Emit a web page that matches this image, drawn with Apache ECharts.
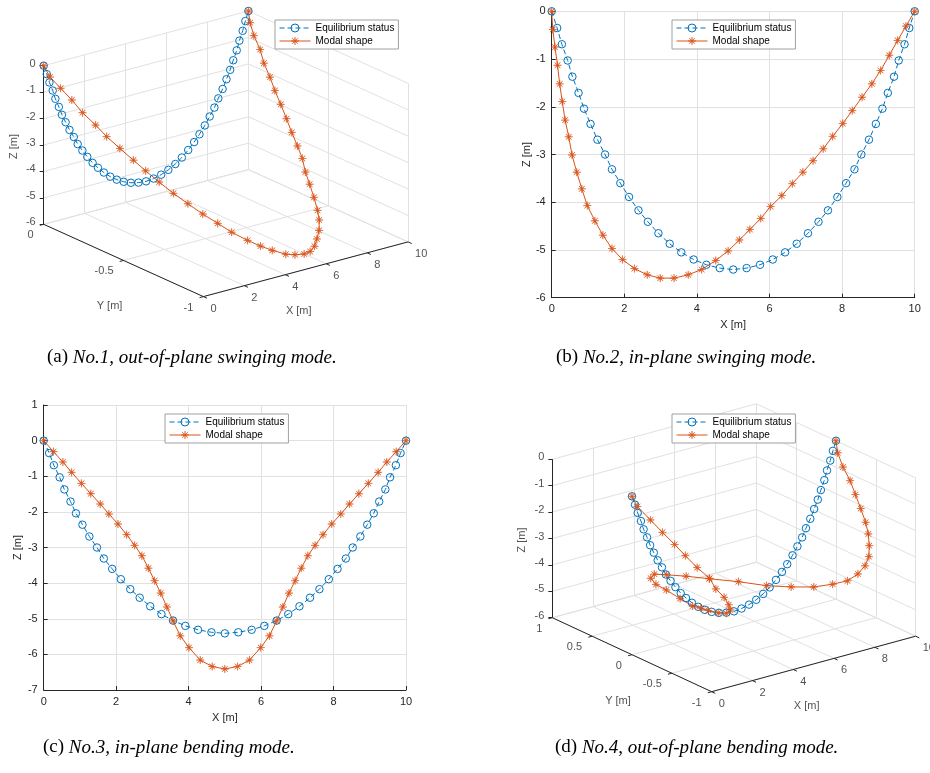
<!DOCTYPE html>
<html>
<head>
<meta charset="utf-8">
<script src="https://cdn.jsdelivr.net/npm/echarts@6/dist/echarts.min.js"></script>
<style>
  html, body { margin: 0; padding: 0; background: #fff; }
  #main { width: 930px; height: 773px; }
</style>
</head>
<body>
<div id="main"></div>
<script>
// equilibrium status of the cable (same in every panel, y = 0)
var eqX = [0, 0.15, 0.28, 0.44, 0.57, 0.74, 0.89, 1.07, 1.26, 1.47, 1.66, 1.89, 2.13, 2.39, 2.65, 2.94, 3.25, 3.57, 3.91, 4.26, 4.63,
  5.00, 5.37, 5.74, 6.09, 6.43, 6.75, 7.06, 7.35, 7.61, 7.87, 8.11, 8.34, 8.53, 8.74, 8.93, 9.11, 9.26, 9.43, 9.56, 9.72, 9.85, 10];
var eqZ = [0, -0.35, -0.69, -1.03, -1.37, -1.71, -2.04, -2.36, -2.69, -3.00, -3.31, -3.60, -3.89, -4.17, -4.41, -4.65, -4.87, -5.05, -5.20, -5.31, -5.38,
  -5.41, -5.38, -5.31, -5.20, -5.05, -4.87, -4.65, -4.41, -4.17, -3.89, -3.60, -3.31, -3.00, -2.69, -2.36, -2.04, -1.71, -1.37, -1.03, -0.69, -0.35, 0];

// mode 1 (out-of-plane swinging), x same as eqX
var mode1Y = [0, -0.02, -0.07, -0.12, -0.17, -0.23, -0.28, -0.34, -0.40, -0.45, -0.51, -0.57, -0.63, -0.69, -0.75, -0.80, -0.86, -0.90, -0.93, -0.97, -0.98,
  -0.99, -0.98, -0.96, -0.93, -0.90, -0.86, -0.81, -0.75, -0.69, -0.63, -0.58, -0.52, -0.46, -0.40, -0.34, -0.28, -0.23, -0.17, -0.13, -0.07, -0.03, 0];
var mode1Z = [0, -0.40, -0.72, -1.06, -1.43, -1.77, -2.10, -2.42, -2.74, -3.05, -3.35, -3.66, -3.94, -4.22, -4.46, -4.72, -4.93, -5.10, -5.25, -5.36, -5.43,
  -5.45, -5.46, -5.39, -5.27, -5.10, -4.88, -4.72, -4.45, -4.17, -3.93, -3.60, -3.34, -3.03, -2.72, -2.38, -2.06, -1.72, -1.39, -1.01, -0.68, -0.33, 0];

// mode 2 (in-plane swinging)
var mode2X = [0, 0.03, 0.09, 0.16, 0.22, 0.29, 0.37, 0.47, 0.56, 0.69, 0.83, 0.98, 1.19, 1.41, 1.66, 1.95, 2.28, 2.63, 2.99, 3.37, 3.76,
  4.13, 4.52, 4.86, 5.17, 5.46, 5.76, 6.03, 6.34, 6.63, 6.92, 7.20, 7.48, 7.74, 8.02, 8.28, 8.55, 8.82, 9.06, 9.30, 9.53, 9.76, 10];
var mode2Z = [0, -0.38, -0.75, -1.13, -1.52, -1.89, -2.28, -2.63, -3.01, -3.37, -3.72, -4.07, -4.39, -4.69, -4.97, -5.20, -5.39, -5.52, -5.59, -5.59, -5.52,
  -5.41, -5.22, -5.02, -4.79, -4.57, -4.34, -4.09, -3.86, -3.61, -3.37, -3.13, -2.88, -2.62, -2.35, -2.08, -1.80, -1.52, -1.24, -0.92, -0.61, -0.31, 0];

// mode 3 (in-plane bending)
var mode3X = [0, 0.27, 0.53, 0.77, 1.04, 1.30, 1.56, 1.80, 2.05, 2.29, 2.51, 2.71, 2.89, 3.06, 3.23, 3.40, 3.57, 3.77, 4.01, 4.32, 4.65,
  5.00, 5.35, 5.68, 5.99, 6.23, 6.43, 6.60, 6.77, 6.94, 7.11, 7.29, 7.49, 7.71, 7.95, 8.20, 8.44, 8.70, 8.96, 9.23, 9.47, 9.73, 10];
var mode3Z = [0, -0.31, -0.60, -0.89, -1.20, -1.49, -1.78, -2.06, -2.34, -2.64, -2.94, -3.23, -3.58, -3.93, -4.28, -4.67, -5.06, -5.48, -5.81, -6.16, -6.34,
  -6.41, -6.34, -6.16, -5.81, -5.48, -5.06, -4.67, -4.28, -3.93, -3.58, -3.23, -2.94, -2.64, -2.34, -2.06, -1.78, -1.49, -1.20, -0.89, -0.60, -0.31, 0];

// mode 4 (out-of-plane bending), x same as eqX
var mode4Y = [0, -0.03, -0.16, -0.27, -0.39, -0.48, -0.59, -0.70, -0.73, -0.78, -0.79, -0.75, -0.64, -0.47, -0.28, -0.11, 0.07, 0.31, 0.57, 0.79, 0.95,
  1.00, 0.94, 0.79, 0.59, 0.31, 0.04, -0.19, -0.40, -0.57, -0.69, -0.76, -0.79, -0.79, -0.74, -0.68, -0.60, -0.50, -0.39, -0.29, -0.16, -0.06, 0];
var mode4Z = [0, -0.38, -0.73, -1.08, -1.40, -1.73, -2.06, -2.35, -2.75, -3.04, -3.35, -3.65, -3.98, -4.26, -4.49, -4.70, -4.94, -5.06, -5.17, -5.34, -5.41,
  -5.40, -5.42, -5.34, -5.23, -5.02, -4.86, -4.65, -4.42, -4.13, -3.89, -3.58, -3.28, -2.97, -2.67, -2.35, -2.06, -1.71, -1.37, -1.01, -0.71, -0.34, 0];

var xTicks = [0, 2, 4, 6, 8, 10];
var zTicks1 = [-6, -5, -4, -3, -2, -1, 0];
var yTicks1 = [-1, -0.5, 0];
var yTicks4 = [-1, -0.5, 0, 0.5, 1];

var legendNames = ['Equilibrium status', 'Modal shape'];
var captionTags = ['(a)', '(b)', '(c)', '(d)'];
var captionTexts = ['No.1, out-of-plane swinging mode.', 'No.2, in-plane swinging mode.',
  'No.3, in-plane bending mode.', 'No.4, out-of-plane bending mode.'];

var FONT = 'Liberation Sans';
var INK = '#262626';
var GRIDC = '#e1e1e1';
var BLUE = '#0072BD';
var RED = '#D95319';

// matlab-like '*' marker
function starPath() {
  var pts = [];
  for (var k = 0; k < 16; k++) {
    var a = k * Math.PI / 8, r = k % 2 === 0 ? 10 : 1.5;
    pts.push((10 + r * Math.sin(a)).toFixed(2) + ' ' + (10 - r * Math.cos(a)).toFixed(2));
  }
  return 'path://M' + pts.join(' L') + ' Z';
}
var STAR = starPath();

// screen projection of the two 3D views (az -37.5, el 30), origin at (xmin, ymax, zmin)
var view1 = { o: [43.7, 224.3], ex: [20.47, -5.47], ey: [-159.7, -72.3], ez: [0, -26.43],
  xr: [0, 10], yr: [-1, 0], zr: [-6, 0] };
var view4 = { o: [552.3, 617.7], ex: [20.4, -5.55], ey: [-79.67, -37], ez: [0, -26.4],
  xr: [0, 10], yr: [-1, 1], zr: [-6, 0] };

function proj(v, x, y, z) {
  var dx = x - v.xr[0], dy = y - v.yr[1], dz = z - v.zr[0];
  return [v.o[0] + dx * v.ex[0] + dy * v.ey[0] + dz * v.ez[0],
          v.o[1] + dx * v.ex[1] + dy * v.ey[1] + dz * v.ez[1]];
}
function add(p, d) { return [p[0] + d[0], p[1] + d[1]]; }
function unit(d, len) { var l = Math.sqrt(d[0] * d[0] + d[1] * d[1]); return [d[0] / l * len, d[1] / l * len]; }

function box3d(v, yt) {
  var x0 = v.xr[0], x1 = v.xr[1], y0 = v.yr[0], y1 = v.yr[1], z0 = v.zr[0], z1 = v.zr[1];
  var P = function (x, y, z) { return proj(v, x, y, z); };
  var light = [], dark = [], labels = [];
  xTicks.forEach(function (x) {
    light.push([P(x, y1, z0), P(x, y1, z1)]);
    light.push([P(x, y1, z0), P(x, y0, z0)]);
    var p = P(x, y0, z0);
    dark.push([p, add(p, unit([-v.ey[0], -v.ey[1]], 4))]);
    labels.push({ p: add(p, [7, 12]), t: String(x), align: 'left' });
  });
  zTicks1.forEach(function (z) {
    light.push([P(x0, y1, z), P(x1, y1, z)]);
    light.push([P(x1, y1, z), P(x1, y0, z)]);
    var p = P(x0, y1, z);
    dark.push([p, add(p, [-4, 0])]);
    labels.push({ p: add(p, [-8, -2]), t: String(z), align: 'right' });
  });
  yt.forEach(function (y) {
    light.push([P(x0, y, z0), P(x1, y, z0)]);
    light.push([P(x1, y, z0), P(x1, y, z1)]);
    var p = P(x0, y, z0);
    dark.push([p, add(p, unit([-v.ex[0], -v.ex[1]], 4))]);
    labels.push({ p: add(p, [-10, 11]), t: String(y), align: 'right' });
  });
  dark.push([P(x0, y1, z0), P(x0, y1, z1)]);
  dark.push([P(x0, y0, z0), P(x0, y1, z0)]);
  dark.push([P(x0, y0, z0), P(x1, y0, z0)]);
  labels.push({ p: add(P(x0, y1, (z0 + z1) / 2), [-30, 1.5]), t: 'Z [m]', align: 'center', rot: 90 });
  labels.push({ p: add(P(x0, (y0 + y1) / 2, z0), [-14, 46]), t: 'Y [m]', align: 'center' });
  labels.push({ p: add(P((x0 + x1) / 2, y0, z0), [-7, 42]), t: 'X [m]', align: 'center' });
  return { light: light, dark: dark, labels: labels };
}

function segSeries(segs, color) {
  return {
    type: 'lines', coordinateSystem: 'cartesian2d', xAxisIndex: 2, yAxisIndex: 2, silent: true,
    lineStyle: { color: color, width: 1, opacity: 1, curveness: 0 },
    data: segs.map(function (s) { return { coords: s }; })
  };
}
function labelSeries(labels) {
  return {
    type: 'scatter', xAxisIndex: 2, yAxisIndex: 2, silent: true, symbolSize: 1,
    itemStyle: { color: 'rgba(0,0,0,0)' },
    label: { show: true, position: 'inside', fontFamily: FONT, fontSize: 11, color: INK, verticalAlign: 'middle' },
    data: labels.map(function (l) {
      return { value: l.p, label: { formatter: l.t, align: l.align, rotate: l.rot || 0 } };
    })
  };
}

function eqSeries(data, xi) {
  return {
    name: legendNames[0], type: 'line', xAxisIndex: xi, yAxisIndex: xi, data: data, clip: false, silent: true,
    showAllSymbol: true, symbol: 'circle', symbolSize: 7.5,
    itemStyle: { color: 'rgba(255,255,255,0)', borderColor: BLUE, borderWidth: 1 },
    lineStyle: { color: BLUE, width: 1, type: [5, 3] }
  };
}
function modeSeries(data, xi) {
  return {
    name: legendNames[1], type: 'line', xAxisIndex: xi, yAxisIndex: xi, data: data, clip: false, silent: true,
    showAllSymbol: true, symbol: STAR, symbolSize: 8,
    itemStyle: { color: RED, borderColor: RED, borderWidth: 0.5 },
    lineStyle: { color: RED, width: 1 }
  };
}

function pairs(xs, zs) { return xs.map(function (x, i) { return [x, zs[i]]; }); }

function axis2d(gi, min, max, interval, name, gap) {
  return {
    type: 'value', gridIndex: gi, min: min, max: max, interval: interval,
    name: name, nameLocation: 'middle', nameGap: gap,
    nameTextStyle: { fontFamily: FONT, fontSize: 11, color: INK },
    axisLine: { show: true, onZero: false, lineStyle: { color: INK, width: 1 } },
    axisTick: { show: true, inside: true, length: 4, lineStyle: { color: INK } },
    axisLabel: { fontFamily: FONT, fontSize: 11, color: INK, margin: 6 },
    splitLine: { show: true, lineStyle: { color: GRIDC, width: 1 } }
  };
}

function legendAt(left, top) {
  return {
    data: [
      { name: legendNames[0], itemStyle: { color: 'rgba(255,255,255,0)', borderColor: BLUE, borderWidth: 1 },
        lineStyle: { color: BLUE, width: 1, type: [5, 3] } },
      { name: legendNames[1], itemStyle: { color: RED, borderColor: RED, borderWidth: 0.5 },
        lineStyle: { color: RED, width: 1 } }
    ],
    left: left, top: top, orient: 'vertical',
    backgroundColor: '#fff', borderColor: '#a0a0a0', borderWidth: 1, padding: [3, 4],
    itemGap: 3, itemWidth: 31, itemHeight: 10, selectedMode: false,
    textStyle: { fontFamily: FONT, fontSize: 10, color: '#000', lineHeight: 10 }
  };
}

var b1 = box3d(view1, yTicks1);
var b4 = box3d(view4, yTicks4);

var eq1 = eqX.map(function (x, i) { return proj(view1, x, 0, eqZ[i]); });
var md1 = eqX.map(function (x, i) { return proj(view1, x, mode1Y[i], mode1Z[i]); });
var eq4 = eqX.map(function (x, i) { return proj(view4, x, 0, eqZ[i]); });
var md4 = eqX.map(function (x, i) { return proj(view4, x, mode4Y[i], mode4Z[i]); });

var captionPos = [[47, 348], [556, 348], [43, 738], [555, 738]];
var graphics = captionTags.map(function (tag, i) {
  return {
    type: 'text', left: captionPos[i][0], top: captionPos[i][1], silent: true,
    style: {
      text: '{u|' + tag + '} {i|' + captionTexts[i] + '}',
      fill: '#000', font: '19px "Liberation Serif"',
      rich: {
        u: { fontFamily: 'Liberation Serif', fontSize: 19, fill: '#000' },
        i: { fontFamily: 'Liberation Serif', fontSize: 19, fontStyle: 'italic', fill: '#000' }
      }
    }
  };
});

var chart = echarts.init(document.getElementById('main'));
chart.setOption({
  animation: false,
  backgroundColor: '#fff',
  grid: [
    { left: 551.7, top: 11.3, width: 363, height: 286.4, outerBoundsMode: 'none' },
    { left: 43.7, top: 405, width: 362.3, height: 285, outerBoundsMode: 'none' },
    { left: 0, top: 0, width: 930, height: 773, outerBoundsMode: 'none' }
  ],
  xAxis: [
    axis2d(0, 0, 10, 2, 'X [m]', 22),
    axis2d(1, 0, 10, 2, 'X [m]', 22),
    { type: 'value', gridIndex: 2, min: 0, max: 930, show: false }
  ],
  yAxis: [
    axis2d(0, -6, 0, 1, 'Z [m]', 19),
    axis2d(1, -7, 1, 1, 'Z [m]', 20),
    { type: 'value', gridIndex: 2, min: 0, max: 773, inverse: true, show: false }
  ],
  legend: [legendAt(275, 20), legendAt(672, 20), legendAt(165, 414), legendAt(672, 414)],
  graphic: graphics,
  series: [
    eqSeries(pairs(eqX, eqZ), 0),
    modeSeries(pairs(mode2X, mode2Z), 0),
    eqSeries(pairs(eqX, eqZ), 1),
    modeSeries(pairs(mode3X, mode3Z), 1),
    segSeries(b1.light, GRIDC),
    segSeries(b4.light, GRIDC),
    segSeries(b1.dark, INK),
    segSeries(b4.dark, INK),
    labelSeries(b1.labels),
    labelSeries(b4.labels),
    eqSeries(eq1, 2),
    modeSeries(md1, 2),
    eqSeries(eq4, 2),
    modeSeries(md4, 2)
  ]
});
</script>
</body>
</html>
